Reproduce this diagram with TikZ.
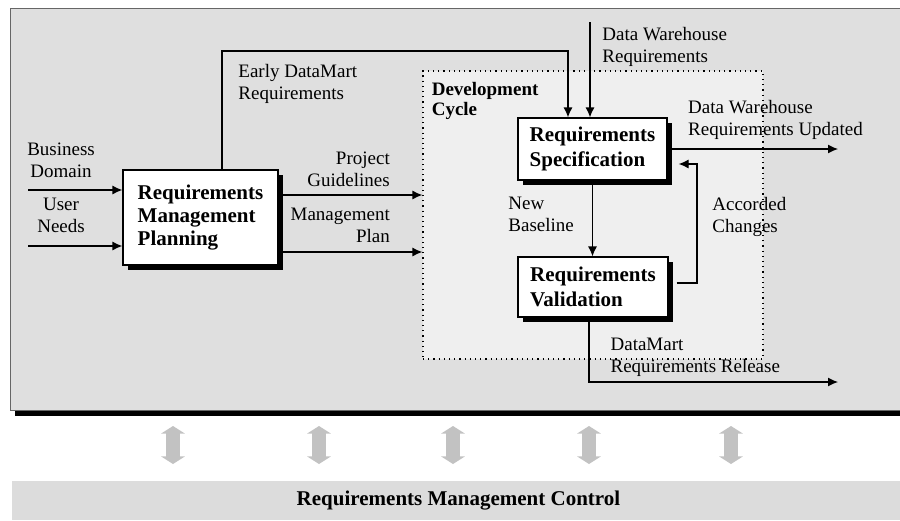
\documentclass[tikz,border=0pt]{standalone}
\usepackage{fontspec}
\setmainfont{Liberation Serif}
\usetikzlibrary{shapes,arrows,arrows.meta,shadows}

\definecolor{areagray}{HTML}{DFDFDF}
\definecolor{cyclegray}{HTML}{EFEFEF}
\definecolor{ctrlgray}{HTML}{DCDCDC}
\definecolor{linkgray}{HTML}{C2C2C2}

\tikzstyle{block} = [inner sep=0, rectangle, draw, fill=white, align=left, line width=0.6pt, font=\fontsize{10.5}{12.5}\selectfont\bfseries, drop shadow={shadow xshift=2.5pt, shadow yshift=-2.5pt, fill=black, opacity=1}]
\tikzstyle{area} = [inner sep=0, rectangle, draw=black!60, fill=areagray, line width=0.5pt, drop shadow={shadow xshift=2.5pt, shadow yshift=-2.8pt, fill=black, opacity=1}]
\tikzstyle{cycle_box} = [inner sep=0, rectangle, draw, dotted, fill=cyclegray, line width=0.6pt]
\tikzstyle{txt} = [inner sep=0, align=left, font=\fontsize{9.5}{11}\selectfont]
\tikzstyle{link} = [double arrow, fill=linkgray, inner sep=0, rotate=90, text height=6.5pt, text depth=0pt, text width=0pt, minimum height=19pt, minimum width=11.5pt, double arrow head extend=2.5pt, double arrow tip angle=115]
\tikzstyle{line} = [draw, -{Latex[length=5pt, width=4.5pt]}, line width=0.6pt]

\begin{document}
\begin{tikzpicture}[x=0.5pt, y=-0.5pt]
\useasboundingbox (0,0) rectangle (900,520);

% process area and development cycle
\node [area, minimum width=450pt, minimum height=201pt] (area) at (460,209) {};
\node [cycle_box, minimum width=170pt, minimum height=144pt] (cycle) at (593,215) {};
\node [anchor=north west, inner sep=0, align=left, font=\fontsize{9.5}{10}\selectfont\bfseries] (cyclelabel) at ([xshift=4.5pt, yshift=-5.75pt]cycle.north west) {Development\\Cycle};

\node [block, minimum width=77.5pt, minimum height=47.5pt, font=\fontsize{10.5}{11.5}\selectfont\bfseries] (planning) at (200.5,217.5) {Requirements\\Management\\Planning};
\node [block, minimum width=74.5pt, minimum height=31pt] (spec) at (592.5,149) {Requirements\\Specification};
\node [block, minimum width=75pt, minimum height=30pt] (valid) at (593,287) {Requirements\\Validation};

\coordinate (bizin) at (28,190);
\coordinate (userin) at (28,246);
\coordinate (early) at (222,51);
\coordinate (dwin) at (590,22);
\coordinate (loop) at (697,220);
\coordinate (dwout) at (838,148);
\coordinate (dmout) at (838,382);

\path [line] (bizin) -- node[txt, align=center, anchor=south, pos=0.35, yshift=6pt] (bizlabel) {Business\\Domain} (bizin -| planning.west);
\path [line] (userin) -- node[txt, align=center, anchor=south, pos=0.35, yshift=6.5pt] (userlabel) {User\\Needs} (userin -| planning.west);

\path [line] (early |- planning.north) -- (early) -| ([xshift=-12.25pt]spec.north);
\node [txt, anchor=north west] (earlylabel) at ([xshift=8pt, yshift=-6.5pt]early) {Early DataMart\\Requirements};

\path [line] (dwin) -- (dwin |- spec.north);
\node [txt, anchor=north west] (dwlabel) at ([xshift=6pt, yshift=-2.25pt]dwin) {Data Warehouse\\Requirements};

\path [line] ([yshift=11.25pt]planning.east) -- node[txt, align=right, anchor=south east, pos=1, xshift=-16pt, yshift=4pt] (guidelabel) {Project\\Guidelines} ([yshift=11.25pt]planning.east -| cycle.west);
\path [line] ([yshift=-17.25pt]planning.east) -- node[txt, align=right, anchor=south east, pos=1, xshift=-16pt, yshift=4.5pt] (planlabel) {Management\\Plan} ([yshift=-17.25pt]planning.east -| cycle.west);

\path [line] (spec.south) -- node[txt, anchor=east, xshift=-9pt, yshift=2pt] (baselabel) {New\\Baseline} (spec.south |- valid.north);
\path [line] ([xshift=4pt, yshift=2pt]valid.east) -| (loop) |- ([xshift=5.5pt, yshift=-7.5pt]spec.east);
\node [txt, anchor=west] (changelabel) at ([xshift=7.5pt, yshift=1.5pt]loop) {Accorded\\Changes};

\path [line] (spec.east) node[txt, anchor=south west, xshift=10pt, yshift=4.5pt] (updlabel) {Data Warehouse\\Requirements Updated} -- (spec.east -| dwout);
\path [line] ([xshift=-2pt]valid.south) |- node[txt, anchor=south west, pos=0.5, xshift=10.5pt, yshift=2.5pt] (releaselabel) {DataMart\\Requirements Release} (dmout);

% control links
\foreach \x [count=\i] in {173,319,453,589,731}
  \node [link] (link\i) at (\x,445) {};

\node [rectangle, fill=ctrlgray, inner sep=0, minimum width=446.5pt, minimum height=19.5pt, font=\fontsize{10.5}{12}\selectfont\bfseries] (control) at (458.5,500.5) {Requirements Management Control};

\end{tikzpicture}
\end{document}
